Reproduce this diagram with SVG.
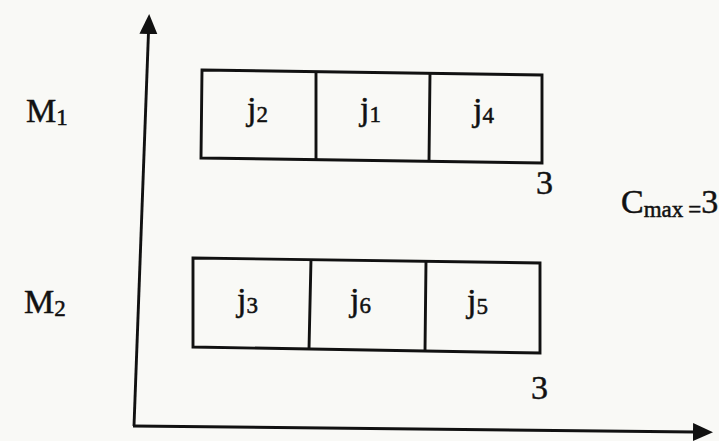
<svg xmlns="http://www.w3.org/2000/svg" width="719" height="441" viewBox="0 0 719 441">
<style>
.ln{stroke:#111;stroke-width:2.9;fill:none;stroke-linejoin:miter}
.t{font-family:"Liberation Serif","Times New Roman",serif;fill:#111;stroke:#111;stroke-width:0.5}
.j{font-size:34px}
.s{font-size:23px}
</style>
<defs>
<marker id="ah" viewBox="0 0 20 20" refX="2" refY="10" markerWidth="20" markerHeight="20" markerUnits="userSpaceOnUse" orient="auto">
<path d="M0,1 L20,10 L0,19 Z" fill="#111"/>
</marker>
</defs>
<rect width="719" height="441" fill="#f9f9f6"/>
<g id="connectors">
<path class="ln" d="M134,426 L148.5,32" marker-end="url(#ah)"/>
<path class="ln" d="M133,426 L695,432" marker-end="url(#ah)"/>
</g>
<g id="m1-row">
<path class="ln" d="M202,70 L542,75 L542,163 L201,158 Z"/>
<path class="ln" d="M316,72 L316,160 M430,73 L429,161"/>
</g>
<g id="m2-row">
<path class="ln" d="M193,258 L540,263 L540,353 L193,347 Z"/>
<path class="ln" d="M311,259 L309,349 M426,261 L425,351"/>
</g>
<g id="labels">
<text class="t" x="26" y="122" font-size="34">M<tspan class="s" dy="3">1</tspan></text>
<text class="t" x="24" y="313" font-size="34">M<tspan class="s" dy="3">2</tspan></text>
<text class="t j" x="247" y="120">j<tspan class="s" dy="2">2</tspan></text>
<text class="t j" x="360" y="120">j<tspan class="s" dy="2">1</tspan></text>
<text class="t j" x="473" y="121">j<tspan class="s" dy="2">4</tspan></text>
<text class="t j" x="237" y="311">j<tspan class="s" dy="2">3</tspan></text>
<text class="t j" x="350" y="311">j<tspan class="s" dy="2">6</tspan></text>
<text class="t j" x="467" y="312">j<tspan class="s" dy="2">5</tspan></text>
<text class="t" x="536" y="194" font-size="34">3</text>
<text class="t" x="531" y="399" font-size="34">3</text>
<text class="t" x="621" y="213" font-size="34">C<tspan font-size="23" dy="4">max</tspan><tspan font-size="23" dx="5">=</tspan><tspan font-size="34" dy="-4">3</tspan></text>
</g>
</svg>
